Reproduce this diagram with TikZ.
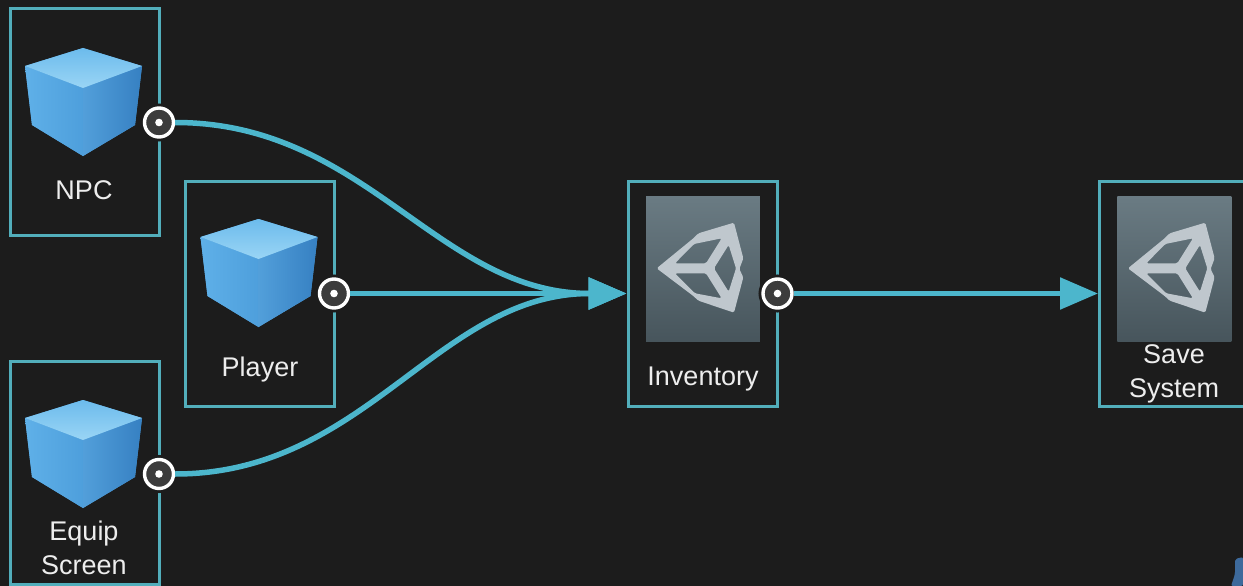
\documentclass[tikz,border=0pt]{standalone}
\usepackage{fontspec}
\setmainfont{Liberation Sans}
\usetikzlibrary{arrows.meta}
\definecolor{bgc}{HTML}{1C1C1C}
\definecolor{edgec}{HTML}{52AEBB}
\definecolor{flowc}{HTML}{4CB6CC}
\definecolor{portc}{HTML}{3C3C3C}
\definecolor{labelc}{HTML}{EDEDED}
\definecolor{logoc}{HTML}{BFC7CD}
\tikzset{
  x=1pt,y=-1pt,
  boxnode/.style={draw=edgec,line width=3pt,fill=none,minimum width=149pt,minimum height=225pt,inner sep=0pt,anchor=center},
  portnode/.style={circle,fill=portc,draw=white,line width=3.4pt,minimum size=29pt,inner sep=0pt,
    preaction={draw=bgc,line width=9pt},
    path picture={\fill[white] (path picture bounding box.center) circle (3.8pt);}},
  labelnode/.style={text=labelc,align=center,font=\fontsize{27}{34}\selectfont,inner sep=0pt},
  flow/.style={draw=flowc,line width=5.5pt,-{Triangle[length=38pt,width=31pt,fill=flowc]}},
  pics/cubeicon/.style={code={
    \fill[CubeLb] (25,66)--(83,48)--(142,66)--(135,125)--(83,156)--(32,125)--cycle;
    \shade[left color=CubeLa,right color=CubeLb] (25,66)--(83,88)--(83,156)--(32,125)--cycle;
    \shade[left color=CubeRa,right color=CubeRb] (83,88)--(142,66)--(135,125)--(83,156)--cycle;
    \shade[top color=CubeTa,bottom color=CubeTb] (25,66)--(83,48)--(142,66)--(83,88)--cycle;
  }},
  pics/unitytile/.style={code={
    \begin{scope}[x=0.3333pt,y=-0.3333pt]
    \shade[top color=TileA,bottom color=TileB] (78,80) rectangle (420,515);
    \fill[logoc,even odd rule,rounded corners=1.5pt]
      (110,295)--(220,205)--(235,190)--(342,158)--(370,265)--(358,297)--(370,322)--(342,428)--(235,392)--(220,378)--cycle
      (165,280)--(258,280)--(305,205)--(222,222)--cycle
      (282,295)--(326,225)--(348,295)--(326,365)--cycle
      (165,310)--(258,310)--(305,385)--(225,370)--cycle;
    \end{scope}
  }},
}
\definecolor{CubeLa}{HTML}{5FB0E8}
\definecolor{CubeLb}{HTML}{4E9FDC}
\definecolor{CubeRa}{HTML}{529FDA}
\definecolor{CubeRb}{HTML}{3680C2}
\definecolor{CubeTa}{HTML}{6CBBEC}
\definecolor{CubeTb}{HTML}{9AD5F5}
\definecolor{TileA}{HTML}{6A7B83}
\definecolor{TileB}{HTML}{47555C}
\definecolor{scrapc}{HTML}{3D6A9C}
\begin{document}
\begin{tikzpicture}
\fill[bgc] (0,0) rectangle (1243,586);
\useasboundingbox (0,0) rectangle (1243,586);
% boxes
\node[boxnode,minimum height=226pt] (npc) at (84.5,122) {};
\node[boxnode] (player) at (259.5,293.5) {};
\node[boxnode,minimum height=222.5pt] (equip) at (84.5,473.2) {};
\node[boxnode] (inv) at (702.5,293.5) {};
\node[boxnode] (save) at (1174,293.5) {};
% icons
\pic at (0,0) {cubeicon};
\pic at (175.5,171) {cubeicon};
\pic at (0,352) {cubeicon};
\pic at (620,170) {unitytile};
\pic at (1091.3,170) {unitytile};
% labels
\node[labelnode] (npclabel) at (84,190) {NPC};
\node[labelnode] (playerlabel) at (260,370) {Player};
\node[labelnode] (equiplabel) at (84,548) {Equip\\Screen};
\node[labelnode] (invlabel) at (703,379.5) {Inventory};
\node[labelnode] (savelabel) at (1174,374) {Save\\System};
% ports
\node[portnode] (npcport) at (159,122.5) {};
\node[portnode] (playerport) at (334,293.5) {};
\node[portnode] (equipport) at (159,474) {};
\node[portnode] (invport) at (777.5,293.5) {};
% connectors
\draw[flow] (npcport.east) .. controls (366,122.5) and (438,293.5) .. (inv.west);
\draw[flow] (playerport.east) -- (inv.west);
\draw[flow] (equipport.east) .. controls (366,474) and (438,293.5) .. (inv.west);
\draw[flow] (invport.east) -- (save.west);
% corner fragment
\fill[rounded corners=2pt,fill=scrapc] (1235,559)--(1243,557)--(1243,586)--(1231,586)--(1235,574)--cycle;
\end{tikzpicture}
\end{document}
